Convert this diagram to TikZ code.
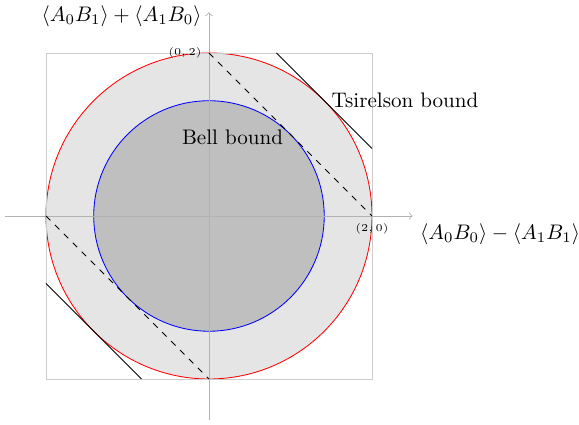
\documentclass[tikz,border=0pt]{standalone}
\usepackage{amsmath}
\usepackage{amssymb}
\usepackage{xcolor}
\usetikzlibrary{arrows, positioning, calc}

\begin{document}
\begin{tikzpicture}[x=1.36cm, y=1.36cm]
    \useasboundingbox (-2.564,-2.56) rectangle (4.540,2.65);
    % Center
    \coordinate (O) at (0,0);
    \def\quantum{2}
    \def\classical{1.4142}

    % Quantum region (disc of radius 2)
    \draw[red, fill=gray!20] (O) circle (\quantum);

    % Classical region (disc of radius sqrt 2)
    \draw[blue, fill=gray!50] (O) circle (\classical);

    % Square of all correlations
    \draw[gray!40] (-2,-2) rectangle (2,2);

    % Axes
    \coordinate (xmin) at (-2.5,0);
    \coordinate (xmax) at (2.5,0);
    \coordinate (ymin) at (0,-2.5);
    \coordinate (ymax) at (0,2.5);
    \draw[gray!60, ->] (xmin) -- (xmax);
    \draw[gray!60, ->] (ymin) -- (ymax);
    \node[below right] at (xmax) {$\langle A_0B_0\rangle - \langle A_1B_1\rangle$};
    \node[anchor=east] at (0,2.45) {$\langle A_0B_1\rangle + \langle A_1B_0\rangle$};

    % Bell bound lines
    \coordinate (P) at (0,2);
    \coordinate (Q) at (2,0);
    \draw[dashed] (P) -- (Q);
    \draw[dashed] (-2,0) -- (0,-2);
    \node[left, font=\tiny] at (P) {$(0,2)$};
    \node[below, font=\tiny] at (Q) {$(2,0)$};

    % Tsirelson bound lines
    \draw (0.8284,2) -- (2,0.8284);
    \draw (-2,-0.8284) -- (-0.8284,-2);

    % Labels
    \node[right] at (1.4142,1.4142) {Tsirelson bound};
    \node[left] at (1,0.97) {Bell bound};
\end{tikzpicture}
\end{document}
